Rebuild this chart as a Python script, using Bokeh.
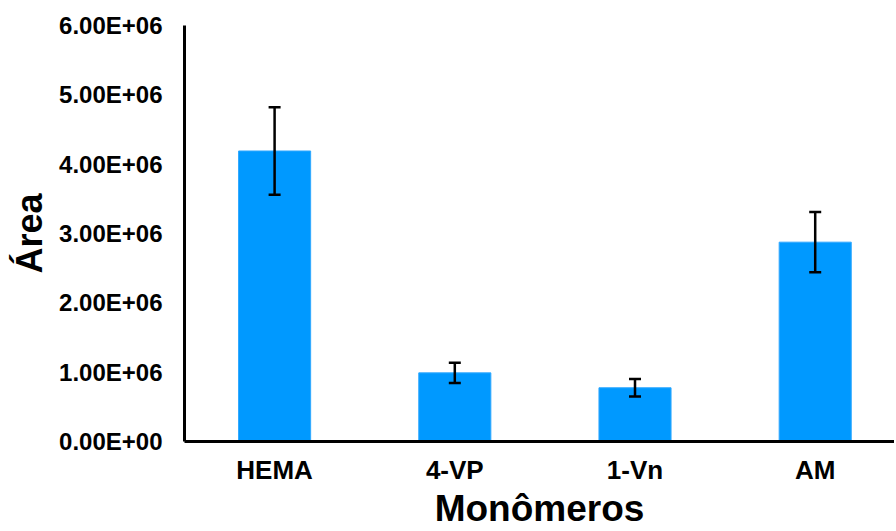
from bokeh.plotting import figure
from bokeh.models import ColumnDataSource, Range1d, FixedTicker, Whisker, TeeHead
from bokeh.embed import file_html
from bokeh.resources import INLINE

categories = ["HEMA", "4-VP", "1-Vn", "AM"]
areas = [4.19e6, 0.99e6, 0.775e6, 2.875e6]
errors = [0.63e6, 0.145e6, 0.125e6, 0.435e6]
y_ticks = [0, 1e6, 2e6, 3e6, 4e6, 5e6, 6e6]
y_tick_labels = ["0.00E+00", "1.00E+06", "2.00E+06", "3.00E+06", "4.00E+06", "5.00E+06", "6.00E+06"]

xs = list(range(len(categories)))
src = ColumnDataSource(dict(
    x=xs, top=areas,
    upper=[a + e for a, e in zip(areas, errors)],
    lower=[a - e for a, e in zip(areas, errors)],
))

FONT = "Liberation Sans"

p = figure(width=894, height=531, output_backend="svg", toolbar_location=None,
           x_range=Range1d(-0.5, 3.44), y_range=Range1d(0, 6e6),
           min_border_left=184, min_border_right=0, min_border_top=25, min_border_bottom=88)
p.outline_line_color = None
p.xgrid.grid_line_color = None
p.ygrid.grid_line_color = None

p.vbar(x="x", top="top", bottom=0, width=0.4, source=src, fill_color="#0099FF", line_color="#2FA8FF", line_width=1)

wh = Whisker(base="x", upper="upper", lower="lower", source=src, line_color="black", line_width=2.5,
             level="overlay",
             upper_head=TeeHead(size=12, line_color="black", line_width=2.5),
             lower_head=TeeHead(size=12, line_color="black", line_width=2.5))
p.add_layout(wh)

# y axis
p.yaxis.ticker = FixedTicker(ticks=y_ticks)
p.yaxis.major_label_overrides = {int(t): l for t, l in zip(y_ticks, y_tick_labels)}
p.yaxis.major_tick_line_color = None
p.yaxis.minor_tick_line_color = None
p.yaxis.major_tick_out = 0
p.yaxis.major_label_standoff = 22
p.yaxis.major_label_text_font = FONT
p.yaxis.major_label_text_font_style = "bold"
p.yaxis.major_label_text_font_size = "24px"
p.yaxis.major_label_text_color = "black"
p.yaxis.axis_line_color = "black"
p.yaxis.axis_line_width = 3
p.yaxis.axis_label = "Área"
p.yaxis.axis_label_text_font = FONT
p.yaxis.axis_label_text_font_style = "bold"
p.yaxis.axis_label_text_font_size = "36px"
p.yaxis.axis_label_text_color = "black"
p.yaxis.axis_label_standoff = 6

# x axis
p.xaxis.ticker = FixedTicker(ticks=xs)
p.xaxis.major_label_overrides = {i: c for i, c in zip(xs, categories)}
p.xaxis.major_tick_line_color = None
p.xaxis.minor_tick_line_color = None
p.xaxis.major_tick_out = 0
p.xaxis.major_label_standoff = 13
p.xaxis.major_label_text_font = FONT
p.xaxis.major_label_text_font_style = "bold"
p.xaxis.major_label_text_font_size = "26px"
p.xaxis.major_label_text_color = "black"
p.xaxis.axis_line_color = "black"
p.xaxis.axis_line_width = 3
p.xaxis.axis_label = "Monômeros"
p.xaxis.axis_label_text_font = FONT
p.xaxis.axis_label_text_font_style = "bold"
p.xaxis.axis_label_text_font_size = "37px"
p.xaxis.axis_label_text_color = "black"
p.xaxis.axis_label_standoff = 0

open("out.html", "w").write(file_html(p, INLINE))
